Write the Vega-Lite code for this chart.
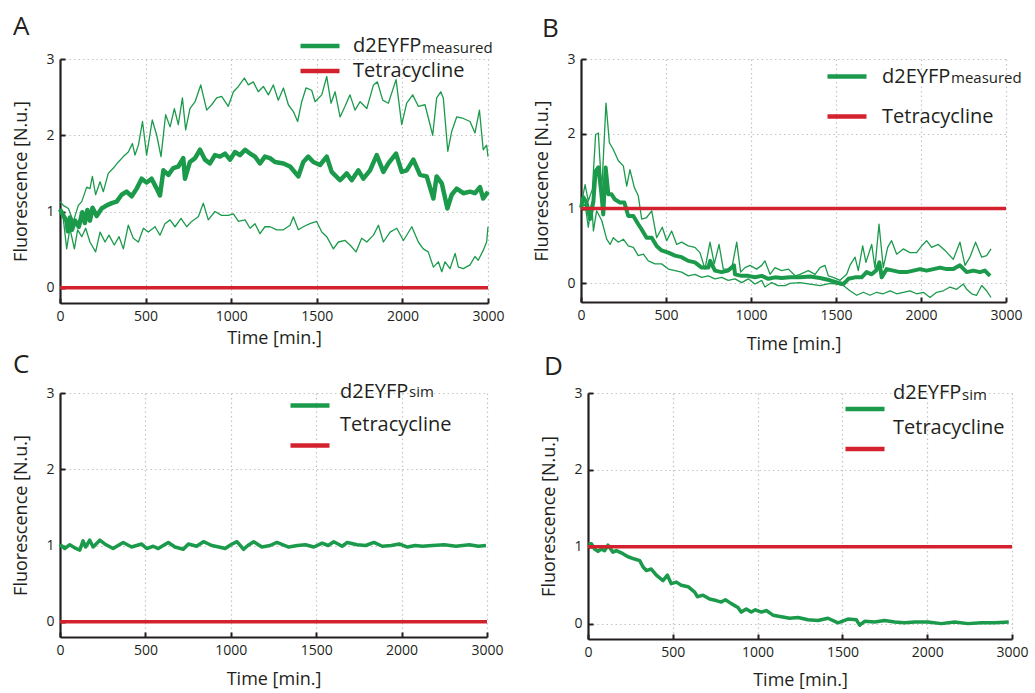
{
"$schema": "https://vega.github.io/schema/vega-lite/v6.json",
"background": "white",
"padding": {"left": 12, "top": 14, "right": 5, "bottom": 0},
"config": {
  "font": "Open Sans",
  "view": {"stroke": null},
  "axis": {"domainColor": "#231f20", "domainWidth": 2.2, "tickColor": "#231f20", "tickWidth": 2, "tickSize": -5, "labelPadding": 11, "labelFont": "Open Sans", "labelFontSize": 14, "labelColor": "#231f20", "titleFont": "Open Sans", "titleFontSize": 18, "titleFontWeight": "normal", "titleColor": "#231f20", "gridColor": "#c4c4c4", "gridDash": [1.5, 3], "gridWidth": 1.2, "labelFlush": false, "format": "d"},
  "axisY": {"titlePadding": 15},
  "legend": {"padding": 0, "labelFont": "Open Sans", "labelFontSize": 20, "labelColor": "#231f20", "symbolType": "stroke", "symbolSize": 1521, "symbolStrokeWidth": 4.5, "labelLimit": 0},
  "title": {"font": "Open Sans", "fontSize": 26, "fontWeight": "normal", "color": "#231f20", "anchor": "start", "frame": "bounds"}
},
"datasets": {
"A": [
{"time":0,"value":1.03,"series":"d2EYFP","line":"mean"},{"time":19,"value":0.95,"series":"d2EYFP","line":"mean"},{"time":39,"value":0.87,"series":"d2EYFP","line":"mean"},{"time":46,"value":0.74,"series":"d2EYFP","line":"mean"},{"time":58,"value":0.92,"series":"d2EYFP","line":"mean"},{"time":70,"value":0.76,"series":"d2EYFP","line":"mean"},{"time":88,"value":0.88,"series":"d2EYFP","line":"mean"},{"time":110,"value":0.8,"series":"d2EYFP","line":"mean"},{"time":130,"value":0.99,"series":"d2EYFP","line":"mean"},{"time":145,"value":0.85,"series":"d2EYFP","line":"mean"},{"time":160,"value":1.02,"series":"d2EYFP","line":"mean"},{"time":175,"value":0.88,"series":"d2EYFP","line":"mean"},{"time":190,"value":1.05,"series":"d2EYFP","line":"mean"},{"time":214,"value":0.94,"series":"d2EYFP","line":"mean"},{"time":243,"value":1.04,"series":"d2EYFP","line":"mean"},{"time":273,"value":1.08,"series":"d2EYFP","line":"mean"},{"time":302,"value":1.11,"series":"d2EYFP","line":"mean"},{"time":331,"value":1.13,"series":"d2EYFP","line":"mean"},{"time":360,"value":1.22,"series":"d2EYFP","line":"mean"},{"time":389,"value":1.26,"series":"d2EYFP","line":"mean"},{"time":419,"value":1.2,"series":"d2EYFP","line":"mean"},{"time":448,"value":1.3,"series":"d2EYFP","line":"mean"},{"time":477,"value":1.43,"series":"d2EYFP","line":"mean"},{"time":506,"value":1.38,"series":"d2EYFP","line":"mean"},{"time":535,"value":1.43,"series":"d2EYFP","line":"mean"},{"time":565,"value":1.3,"series":"d2EYFP","line":"mean"},{"time":584,"value":1.21,"series":"d2EYFP","line":"mean"},{"time":604,"value":1.54,"series":"d2EYFP","line":"mean"},{"time":633,"value":1.48,"series":"d2EYFP","line":"mean"},{"time":662,"value":1.57,"series":"d2EYFP","line":"mean"},{"time":691,"value":1.59,"series":"d2EYFP","line":"mean"},{"time":720,"value":1.7,"series":"d2EYFP","line":"mean"},{"time":730,"value":1.43,"series":"d2EYFP","line":"mean"},{"time":759,"value":1.65,"series":"d2EYFP","line":"mean"},{"time":789,"value":1.7,"series":"d2EYFP","line":"mean"},{"time":818,"value":1.81,"series":"d2EYFP","line":"mean"},{"time":847,"value":1.68,"series":"d2EYFP","line":"mean"},{"time":876,"value":1.63,"series":"d2EYFP","line":"mean"},{"time":905,"value":1.74,"series":"d2EYFP","line":"mean"},{"time":935,"value":1.72,"series":"d2EYFP","line":"mean"},{"time":964,"value":1.76,"series":"d2EYFP","line":"mean"},{"time":993,"value":1.68,"series":"d2EYFP","line":"mean"},{"time":1022,"value":1.78,"series":"d2EYFP","line":"mean"},{"time":1051,"value":1.74,"series":"d2EYFP","line":"mean"},{"time":1081,"value":1.81,"series":"d2EYFP","line":"mean"},{"time":1110,"value":1.76,"series":"d2EYFP","line":"mean"},{"time":1139,"value":1.72,"series":"d2EYFP","line":"mean"},{"time":1168,"value":1.63,"series":"d2EYFP","line":"mean"},{"time":1197,"value":1.72,"series":"d2EYFP","line":"mean"},{"time":1226,"value":1.7,"series":"d2EYFP","line":"mean"},{"time":1256,"value":1.65,"series":"d2EYFP","line":"mean"},{"time":1305,"value":1.63,"series":"d2EYFP","line":"mean"},{"time":1344,"value":1.59,"series":"d2EYFP","line":"mean"},{"time":1392,"value":1.46,"series":"d2EYFP","line":"mean"},{"time":1421,"value":1.65,"series":"d2EYFP","line":"mean"},{"time":1450,"value":1.72,"series":"d2EYFP","line":"mean"},{"time":1480,"value":1.65,"series":"d2EYFP","line":"mean"},{"time":1519,"value":1.61,"series":"d2EYFP","line":"mean"},{"time":1558,"value":1.72,"series":"d2EYFP","line":"mean"},{"time":1587,"value":1.52,"series":"d2EYFP","line":"mean"},{"time":1636,"value":1.41,"series":"d2EYFP","line":"mean"},{"time":1675,"value":1.5,"series":"d2EYFP","line":"mean"},{"time":1704,"value":1.41,"series":"d2EYFP","line":"mean"},{"time":1743,"value":1.54,"series":"d2EYFP","line":"mean"},{"time":1772,"value":1.43,"series":"d2EYFP","line":"mean"},{"time":1811,"value":1.54,"series":"d2EYFP","line":"mean"},{"time":1850,"value":1.74,"series":"d2EYFP","line":"mean"},{"time":1889,"value":1.52,"series":"d2EYFP","line":"mean"},{"time":1918,"value":1.63,"series":"d2EYFP","line":"mean"},{"time":1963,"value":1.76,"series":"d2EYFP","line":"mean"},{"time":1996,"value":1.52,"series":"d2EYFP","line":"mean"},{"time":2025,"value":1.54,"series":"d2EYFP","line":"mean"},{"time":2064,"value":1.68,"series":"d2EYFP","line":"mean"},{"time":2103,"value":1.48,"series":"d2EYFP","line":"mean"},{"time":2142,"value":1.46,"series":"d2EYFP","line":"mean"},{"time":2181,"value":1.17,"series":"d2EYFP","line":"mean"},{"time":2200,"value":1.46,"series":"d2EYFP","line":"mean"},{"time":2230,"value":1.37,"series":"d2EYFP","line":"mean"},{"time":2263,"value":1.04,"series":"d2EYFP","line":"mean"},{"time":2288,"value":1.22,"series":"d2EYFP","line":"mean"},{"time":2317,"value":1.3,"series":"d2EYFP","line":"mean"},{"time":2356,"value":1.24,"series":"d2EYFP","line":"mean"},{"time":2395,"value":1.26,"series":"d2EYFP","line":"mean"},{"time":2424,"value":1.24,"series":"d2EYFP","line":"mean"},{"time":2453,"value":1.32,"series":"d2EYFP","line":"mean"},{"time":2472,"value":1.17,"series":"d2EYFP","line":"mean"},{"time":2500,"value":1.26,"series":"d2EYFP","line":"mean"},
{"time":0,"value":1.13,"series":"d2EYFP","line":"upper"},{"time":19,"value":1.08,"series":"d2EYFP","line":"upper"},{"time":49,"value":1.04,"series":"d2EYFP","line":"upper"},{"time":78,"value":0.87,"series":"d2EYFP","line":"upper"},{"time":107,"value":1.08,"series":"d2EYFP","line":"upper"},{"time":127,"value":1.13,"series":"d2EYFP","line":"upper"},{"time":156,"value":1.32,"series":"d2EYFP","line":"upper"},{"time":175,"value":1.3,"series":"d2EYFP","line":"upper"},{"time":189,"value":1.46,"series":"d2EYFP","line":"upper"},{"time":208,"value":1.22,"series":"d2EYFP","line":"upper"},{"time":234,"value":1.39,"series":"d2EYFP","line":"upper"},{"time":253,"value":1.26,"series":"d2EYFP","line":"upper"},{"time":282,"value":1.5,"series":"d2EYFP","line":"upper"},{"time":312,"value":1.57,"series":"d2EYFP","line":"upper"},{"time":341,"value":1.65,"series":"d2EYFP","line":"upper"},{"time":370,"value":1.72,"series":"d2EYFP","line":"upper"},{"time":399,"value":1.78,"series":"d2EYFP","line":"upper"},{"time":423,"value":1.89,"series":"d2EYFP","line":"upper"},{"time":438,"value":1.74,"series":"d2EYFP","line":"upper"},{"time":458,"value":1.87,"series":"d2EYFP","line":"upper"},{"time":482,"value":2.18,"series":"d2EYFP","line":"upper"},{"time":506,"value":1.74,"series":"d2EYFP","line":"upper"},{"time":539,"value":2.2,"series":"d2EYFP","line":"upper"},{"time":565,"value":2.0,"series":"d2EYFP","line":"upper"},{"time":590,"value":1.72,"series":"d2EYFP","line":"upper"},{"time":617,"value":2.27,"series":"d2EYFP","line":"upper"},{"time":643,"value":2.11,"series":"d2EYFP","line":"upper"},{"time":668,"value":2.35,"series":"d2EYFP","line":"upper"},{"time":691,"value":2.14,"series":"d2EYFP","line":"upper"},{"time":715,"value":2.49,"series":"d2EYFP","line":"upper"},{"time":734,"value":2.07,"series":"d2EYFP","line":"upper"},{"time":759,"value":2.35,"series":"d2EYFP","line":"upper"},{"time":789,"value":2.44,"series":"d2EYFP","line":"upper"},{"time":822,"value":2.66,"series":"d2EYFP","line":"upper"},{"time":857,"value":2.33,"series":"d2EYFP","line":"upper"},{"time":886,"value":2.4,"series":"d2EYFP","line":"upper"},{"time":915,"value":2.49,"series":"d2EYFP","line":"upper"},{"time":944,"value":2.51,"series":"d2EYFP","line":"upper"},{"time":983,"value":2.38,"series":"d2EYFP","line":"upper"},{"time":1013,"value":2.57,"series":"d2EYFP","line":"upper"},{"time":1042,"value":2.64,"series":"d2EYFP","line":"upper"},{"time":1077,"value":2.75,"series":"d2EYFP","line":"upper"},{"time":1100,"value":2.66,"series":"d2EYFP","line":"upper"},{"time":1129,"value":2.7,"series":"d2EYFP","line":"upper"},{"time":1158,"value":2.57,"series":"d2EYFP","line":"upper"},{"time":1188,"value":2.64,"series":"d2EYFP","line":"upper"},{"time":1217,"value":2.53,"series":"d2EYFP","line":"upper"},{"time":1246,"value":2.66,"series":"d2EYFP","line":"upper"},{"time":1275,"value":2.46,"series":"d2EYFP","line":"upper"},{"time":1305,"value":2.62,"series":"d2EYFP","line":"upper"},{"time":1334,"value":2.4,"series":"d2EYFP","line":"upper"},{"time":1363,"value":2.31,"series":"d2EYFP","line":"upper"},{"time":1388,"value":2.18,"series":"d2EYFP","line":"upper"},{"time":1412,"value":2.44,"series":"d2EYFP","line":"upper"},{"time":1437,"value":2.62,"series":"d2EYFP","line":"upper"},{"time":1470,"value":2.59,"series":"d2EYFP","line":"upper"},{"time":1490,"value":2.44,"series":"d2EYFP","line":"upper"},{"time":1529,"value":2.53,"series":"d2EYFP","line":"upper"},{"time":1558,"value":2.77,"series":"d2EYFP","line":"upper"},{"time":1583,"value":2.42,"series":"d2EYFP","line":"upper"},{"time":1607,"value":2.57,"series":"d2EYFP","line":"upper"},{"time":1636,"value":2.24,"series":"d2EYFP","line":"upper"},{"time":1665,"value":2.38,"series":"d2EYFP","line":"upper"},{"time":1694,"value":2.53,"series":"d2EYFP","line":"upper"},{"time":1723,"value":2.33,"series":"d2EYFP","line":"upper"},{"time":1753,"value":2.44,"series":"d2EYFP","line":"upper"},{"time":1792,"value":2.35,"series":"d2EYFP","line":"upper"},{"time":1831,"value":2.66,"series":"d2EYFP","line":"upper"},{"time":1854,"value":2.7,"series":"d2EYFP","line":"upper"},{"time":1885,"value":2.46,"series":"d2EYFP","line":"upper"},{"time":1918,"value":2.42,"series":"d2EYFP","line":"upper"},{"time":1963,"value":2.73,"series":"d2EYFP","line":"upper"},{"time":1996,"value":2.14,"series":"d2EYFP","line":"upper"},{"time":2025,"value":2.42,"series":"d2EYFP","line":"upper"},{"time":2060,"value":2.53,"series":"d2EYFP","line":"upper"},{"time":2093,"value":2.38,"series":"d2EYFP","line":"upper"},{"time":2132,"value":2.4,"series":"d2EYFP","line":"upper"},{"time":2177,"value":2.0,"series":"d2EYFP","line":"upper"},{"time":2200,"value":2.49,"series":"d2EYFP","line":"upper"},{"time":2224,"value":2.57,"series":"d2EYFP","line":"upper"},{"time":2239,"value":2.49,"series":"d2EYFP","line":"upper"},{"time":2265,"value":1.79,"series":"d2EYFP","line":"upper"},{"time":2288,"value":2.05,"series":"d2EYFP","line":"upper"},{"time":2317,"value":2.24,"series":"d2EYFP","line":"upper"},{"time":2356,"value":2.22,"series":"d2EYFP","line":"upper"},{"time":2395,"value":2.18,"series":"d2EYFP","line":"upper"},{"time":2424,"value":2.03,"series":"d2EYFP","line":"upper"},{"time":2450,"value":2.33,"series":"d2EYFP","line":"upper"},{"time":2472,"value":1.81,"series":"d2EYFP","line":"upper"},{"time":2492,"value":1.87,"series":"d2EYFP","line":"upper"},{"time":2500,"value":1.72,"series":"d2EYFP","line":"upper"},
{"time":0,"value":1.04,"series":"d2EYFP","line":"lower"},{"time":19,"value":0.91,"series":"d2EYFP","line":"lower"},{"time":39,"value":0.51,"series":"d2EYFP","line":"lower"},{"time":58,"value":0.78,"series":"d2EYFP","line":"lower"},{"time":84,"value":0.51,"series":"d2EYFP","line":"lower"},{"time":103,"value":0.76,"series":"d2EYFP","line":"lower"},{"time":127,"value":0.67,"series":"d2EYFP","line":"lower"},{"time":150,"value":0.78,"series":"d2EYFP","line":"lower"},{"time":175,"value":0.6,"series":"d2EYFP","line":"lower"},{"time":208,"value":0.47,"series":"d2EYFP","line":"lower"},{"time":234,"value":0.73,"series":"d2EYFP","line":"lower"},{"time":263,"value":0.6,"series":"d2EYFP","line":"lower"},{"time":286,"value":0.69,"series":"d2EYFP","line":"lower"},{"time":317,"value":0.56,"series":"d2EYFP","line":"lower"},{"time":345,"value":0.67,"series":"d2EYFP","line":"lower"},{"time":370,"value":0.51,"series":"d2EYFP","line":"lower"},{"time":399,"value":0.82,"series":"d2EYFP","line":"lower"},{"time":428,"value":0.65,"series":"d2EYFP","line":"lower"},{"time":458,"value":0.6,"series":"d2EYFP","line":"lower"},{"time":487,"value":0.78,"series":"d2EYFP","line":"lower"},{"time":516,"value":0.73,"series":"d2EYFP","line":"lower"},{"time":555,"value":0.8,"series":"d2EYFP","line":"lower"},{"time":584,"value":0.69,"series":"d2EYFP","line":"lower"},{"time":613,"value":0.84,"series":"d2EYFP","line":"lower"},{"time":643,"value":0.89,"series":"d2EYFP","line":"lower"},{"time":672,"value":0.8,"series":"d2EYFP","line":"lower"},{"time":707,"value":0.91,"series":"d2EYFP","line":"lower"},{"time":740,"value":0.8,"series":"d2EYFP","line":"lower"},{"time":769,"value":0.87,"series":"d2EYFP","line":"lower"},{"time":808,"value":0.93,"series":"d2EYFP","line":"lower"},{"time":837,"value":1.11,"series":"d2EYFP","line":"lower"},{"time":866,"value":0.89,"series":"d2EYFP","line":"lower"},{"time":905,"value":1.0,"series":"d2EYFP","line":"lower"},{"time":944,"value":0.95,"series":"d2EYFP","line":"lower"},{"time":983,"value":0.95,"series":"d2EYFP","line":"lower"},{"time":1013,"value":0.97,"series":"d2EYFP","line":"lower"},{"time":1042,"value":0.87,"series":"d2EYFP","line":"lower"},{"time":1081,"value":0.89,"series":"d2EYFP","line":"lower"},{"time":1110,"value":0.78,"series":"d2EYFP","line":"lower"},{"time":1139,"value":0.84,"series":"d2EYFP","line":"lower"},{"time":1168,"value":0.71,"series":"d2EYFP","line":"lower"},{"time":1197,"value":0.8,"series":"d2EYFP","line":"lower"},{"time":1227,"value":0.8,"series":"d2EYFP","line":"lower"},{"time":1266,"value":0.76,"series":"d2EYFP","line":"lower"},{"time":1305,"value":0.76,"series":"d2EYFP","line":"lower"},{"time":1344,"value":0.82,"series":"d2EYFP","line":"lower"},{"time":1363,"value":0.93,"series":"d2EYFP","line":"lower"},{"time":1392,"value":0.76,"series":"d2EYFP","line":"lower"},{"time":1421,"value":0.8,"series":"d2EYFP","line":"lower"},{"time":1460,"value":0.84,"series":"d2EYFP","line":"lower"},{"time":1499,"value":0.87,"series":"d2EYFP","line":"lower"},{"time":1529,"value":0.73,"series":"d2EYFP","line":"lower"},{"time":1558,"value":0.67,"series":"d2EYFP","line":"lower"},{"time":1597,"value":0.51,"series":"d2EYFP","line":"lower"},{"time":1626,"value":0.6,"series":"d2EYFP","line":"lower"},{"time":1665,"value":0.62,"series":"d2EYFP","line":"lower"},{"time":1694,"value":0.56,"series":"d2EYFP","line":"lower"},{"time":1729,"value":0.47,"series":"d2EYFP","line":"lower"},{"time":1762,"value":0.65,"series":"d2EYFP","line":"lower"},{"time":1792,"value":0.6,"series":"d2EYFP","line":"lower"},{"time":1831,"value":0.69,"series":"d2EYFP","line":"lower"},{"time":1860,"value":0.82,"series":"d2EYFP","line":"lower"},{"time":1889,"value":0.6,"series":"d2EYFP","line":"lower"},{"time":1928,"value":0.73,"series":"d2EYFP","line":"lower"},{"time":1967,"value":0.78,"series":"d2EYFP","line":"lower"},{"time":2006,"value":0.62,"series":"d2EYFP","line":"lower"},{"time":2055,"value":0.8,"series":"d2EYFP","line":"lower"},{"time":2093,"value":0.6,"series":"d2EYFP","line":"lower"},{"time":2122,"value":0.51,"series":"d2EYFP","line":"lower"},{"time":2151,"value":0.47,"series":"d2EYFP","line":"lower"},{"time":2181,"value":0.27,"series":"d2EYFP","line":"lower"},{"time":2210,"value":0.34,"series":"d2EYFP","line":"lower"},{"time":2230,"value":0.21,"series":"d2EYFP","line":"lower"},{"time":2249,"value":0.34,"series":"d2EYFP","line":"lower"},{"time":2278,"value":0.25,"series":"d2EYFP","line":"lower"},{"time":2308,"value":0.45,"series":"d2EYFP","line":"lower"},{"time":2327,"value":0.27,"series":"d2EYFP","line":"lower"},{"time":2356,"value":0.25,"series":"d2EYFP","line":"lower"},{"time":2395,"value":0.3,"series":"d2EYFP","line":"lower"},{"time":2424,"value":0.41,"series":"d2EYFP","line":"lower"},{"time":2443,"value":0.36,"series":"d2EYFP","line":"lower"},{"time":2472,"value":0.49,"series":"d2EYFP","line":"lower"},{"time":2492,"value":0.6,"series":"d2EYFP","line":"lower"},{"time":2500,"value":0.8,"series":"d2EYFP","line":"lower"},
{"time":0,"value":0,"series":"Tetracycline","line":"tet"},{"time":2500,"value":0,"series":"Tetracycline","line":"tet"}
],
"B": [
{"time":0,"value":1.01,"series":"d2EYFP","line":"mean"},{"time":14,"value":1.15,"series":"d2EYFP","line":"mean"},{"time":33,"value":1.08,"series":"d2EYFP","line":"mean"},{"time":53,"value":0.86,"series":"d2EYFP","line":"mean"},{"time":73,"value":1.1,"series":"d2EYFP","line":"mean"},{"time":86,"value":1.5,"series":"d2EYFP","line":"mean"},{"time":102,"value":1.55,"series":"d2EYFP","line":"mean"},{"time":118,"value":1.24,"series":"d2EYFP","line":"mean"},{"time":131,"value":0.92,"series":"d2EYFP","line":"mean"},{"time":145,"value":1.55,"series":"d2EYFP","line":"mean"},{"time":161,"value":1.19,"series":"d2EYFP","line":"mean"},{"time":180,"value":1.19,"series":"d2EYFP","line":"mean"},{"time":200,"value":1.12,"series":"d2EYFP","line":"mean"},{"time":229,"value":1.08,"series":"d2EYFP","line":"mean"},{"time":255,"value":1.08,"series":"d2EYFP","line":"mean"},{"time":278,"value":0.9,"series":"d2EYFP","line":"mean"},{"time":308,"value":0.9,"series":"d2EYFP","line":"mean"},{"time":337,"value":0.79,"series":"d2EYFP","line":"mean"},{"time":357,"value":0.72,"series":"d2EYFP","line":"mean"},{"time":386,"value":0.61,"series":"d2EYFP","line":"mean"},{"time":416,"value":0.61,"series":"d2EYFP","line":"mean"},{"time":445,"value":0.5,"series":"d2EYFP","line":"mean"},{"time":474,"value":0.44,"series":"d2EYFP","line":"mean"},{"time":514,"value":0.41,"series":"d2EYFP","line":"mean"},{"time":553,"value":0.37,"series":"d2EYFP","line":"mean"},{"time":592,"value":0.35,"series":"d2EYFP","line":"mean"},{"time":631,"value":0.3,"series":"d2EYFP","line":"mean"},{"time":670,"value":0.28,"series":"d2EYFP","line":"mean"},{"time":710,"value":0.21,"series":"d2EYFP","line":"mean"},{"time":749,"value":0.21,"series":"d2EYFP","line":"mean"},{"time":760,"value":0.3,"series":"d2EYFP","line":"mean"},{"time":788,"value":0.17,"series":"d2EYFP","line":"mean"},{"time":827,"value":0.15,"series":"d2EYFP","line":"mean"},{"time":866,"value":0.17,"series":"d2EYFP","line":"mean"},{"time":900,"value":0.24,"series":"d2EYFP","line":"mean"},{"time":906,"value":0.12,"series":"d2EYFP","line":"mean"},{"time":945,"value":0.1,"series":"d2EYFP","line":"mean"},{"time":984,"value":0.1,"series":"d2EYFP","line":"mean"},{"time":1023,"value":0.08,"series":"d2EYFP","line":"mean"},{"time":1063,"value":0.1,"series":"d2EYFP","line":"mean"},{"time":1102,"value":0.06,"series":"d2EYFP","line":"mean"},{"time":1141,"value":0.08,"series":"d2EYFP","line":"mean"},{"time":1180,"value":0.07,"series":"d2EYFP","line":"mean"},{"time":1229,"value":0.08,"series":"d2EYFP","line":"mean"},{"time":1288,"value":0.08,"series":"d2EYFP","line":"mean"},{"time":1347,"value":0.09,"series":"d2EYFP","line":"mean"},{"time":1406,"value":0.07,"series":"d2EYFP","line":"mean"},{"time":1465,"value":0.04,"series":"d2EYFP","line":"mean"},{"time":1524,"value":0.0,"series":"d2EYFP","line":"mean"},{"time":1543,"value":-0.01,"series":"d2EYFP","line":"mean"},{"time":1573,"value":0.06,"series":"d2EYFP","line":"mean"},{"time":1612,"value":0.08,"series":"d2EYFP","line":"mean"},{"time":1651,"value":0.08,"series":"d2EYFP","line":"mean"},{"time":1680,"value":0.15,"series":"d2EYFP","line":"mean"},{"time":1710,"value":0.12,"series":"d2EYFP","line":"mean"},{"time":1736,"value":0.17,"series":"d2EYFP","line":"mean"},{"time":1755,"value":0.28,"series":"d2EYFP","line":"mean"},{"time":1769,"value":0.08,"series":"d2EYFP","line":"mean"},{"time":1798,"value":0.19,"series":"d2EYFP","line":"mean"},{"time":1837,"value":0.17,"series":"d2EYFP","line":"mean"},{"time":1876,"value":0.15,"series":"d2EYFP","line":"mean"},{"time":1916,"value":0.15,"series":"d2EYFP","line":"mean"},{"time":1955,"value":0.17,"series":"d2EYFP","line":"mean"},{"time":1994,"value":0.19,"series":"d2EYFP","line":"mean"},{"time":2033,"value":0.17,"series":"d2EYFP","line":"mean"},{"time":2073,"value":0.19,"series":"d2EYFP","line":"mean"},{"time":2112,"value":0.21,"series":"d2EYFP","line":"mean"},{"time":2151,"value":0.19,"series":"d2EYFP","line":"mean"},{"time":2190,"value":0.19,"series":"d2EYFP","line":"mean"},{"time":2229,"value":0.24,"series":"d2EYFP","line":"mean"},{"time":2269,"value":0.15,"series":"d2EYFP","line":"mean"},{"time":2308,"value":0.17,"series":"d2EYFP","line":"mean"},{"time":2347,"value":0.15,"series":"d2EYFP","line":"mean"},{"time":2376,"value":0.17,"series":"d2EYFP","line":"mean"},{"time":2406,"value":0.1,"series":"d2EYFP","line":"mean"},
{"time":0,"value":1.04,"series":"d2EYFP","line":"upper"},{"time":24,"value":1.32,"series":"d2EYFP","line":"upper"},{"time":43,"value":1.1,"series":"d2EYFP","line":"upper"},{"time":67,"value":1.26,"series":"d2EYFP","line":"upper"},{"time":86,"value":1.99,"series":"d2EYFP","line":"upper"},{"time":102,"value":2.01,"series":"d2EYFP","line":"upper"},{"time":122,"value":1.24,"series":"d2EYFP","line":"upper"},{"time":147,"value":2.41,"series":"d2EYFP","line":"upper"},{"time":167,"value":1.88,"series":"d2EYFP","line":"upper"},{"time":190,"value":1.79,"series":"d2EYFP","line":"upper"},{"time":220,"value":1.64,"series":"d2EYFP","line":"upper"},{"time":249,"value":1.57,"series":"d2EYFP","line":"upper"},{"time":269,"value":1.3,"series":"d2EYFP","line":"upper"},{"time":288,"value":1.52,"series":"d2EYFP","line":"upper"},{"time":314,"value":1.28,"series":"d2EYFP","line":"upper"},{"time":337,"value":1.17,"series":"d2EYFP","line":"upper"},{"time":357,"value":0.86,"series":"d2EYFP","line":"upper"},{"time":386,"value":0.88,"series":"d2EYFP","line":"upper"},{"time":416,"value":0.97,"series":"d2EYFP","line":"upper"},{"time":445,"value":0.61,"series":"d2EYFP","line":"upper"},{"time":478,"value":0.75,"series":"d2EYFP","line":"upper"},{"time":504,"value":0.57,"series":"d2EYFP","line":"upper"},{"time":533,"value":0.7,"series":"d2EYFP","line":"upper"},{"time":563,"value":0.52,"series":"d2EYFP","line":"upper"},{"time":592,"value":0.55,"series":"d2EYFP","line":"upper"},{"time":631,"value":0.5,"series":"d2EYFP","line":"upper"},{"time":670,"value":0.48,"series":"d2EYFP","line":"upper"},{"time":700,"value":0.41,"series":"d2EYFP","line":"upper"},{"time":729,"value":0.19,"series":"d2EYFP","line":"upper"},{"time":759,"value":0.55,"series":"d2EYFP","line":"upper"},{"time":784,"value":0.26,"series":"d2EYFP","line":"upper"},{"time":812,"value":0.52,"series":"d2EYFP","line":"upper"},{"time":837,"value":0.19,"series":"d2EYFP","line":"upper"},{"time":866,"value":0.19,"series":"d2EYFP","line":"upper"},{"time":890,"value":0.24,"series":"d2EYFP","line":"upper"},{"time":916,"value":0.55,"series":"d2EYFP","line":"upper"},{"time":939,"value":0.15,"series":"d2EYFP","line":"upper"},{"time":965,"value":0.21,"series":"d2EYFP","line":"upper"},{"time":994,"value":0.24,"series":"d2EYFP","line":"upper"},{"time":1033,"value":0.19,"series":"d2EYFP","line":"upper"},{"time":1063,"value":0.24,"series":"d2EYFP","line":"upper"},{"time":1082,"value":0.3,"series":"d2EYFP","line":"upper"},{"time":1112,"value":0.12,"series":"d2EYFP","line":"upper"},{"time":1141,"value":0.21,"series":"d2EYFP","line":"upper"},{"time":1180,"value":0.17,"series":"d2EYFP","line":"upper"},{"time":1220,"value":0.19,"series":"d2EYFP","line":"upper"},{"time":1260,"value":0.1,"series":"d2EYFP","line":"upper"},{"time":1288,"value":0.12,"series":"d2EYFP","line":"upper"},{"time":1337,"value":0.17,"series":"d2EYFP","line":"upper"},{"time":1377,"value":0.12,"series":"d2EYFP","line":"upper"},{"time":1406,"value":0.21,"series":"d2EYFP","line":"upper"},{"time":1435,"value":0.24,"series":"d2EYFP","line":"upper"},{"time":1455,"value":0.1,"series":"d2EYFP","line":"upper"},{"time":1484,"value":0.08,"series":"d2EYFP","line":"upper"},{"time":1524,"value":0.04,"series":"d2EYFP","line":"upper"},{"time":1563,"value":0.12,"series":"d2EYFP","line":"upper"},{"time":1582,"value":0.24,"series":"d2EYFP","line":"upper"},{"time":1612,"value":0.35,"series":"d2EYFP","line":"upper"},{"time":1631,"value":0.17,"series":"d2EYFP","line":"upper"},{"time":1657,"value":0.5,"series":"d2EYFP","line":"upper"},{"time":1676,"value":0.28,"series":"d2EYFP","line":"upper"},{"time":1710,"value":0.52,"series":"d2EYFP","line":"upper"},{"time":1729,"value":0.21,"series":"d2EYFP","line":"upper"},{"time":1753,"value":0.79,"series":"d2EYFP","line":"upper"},{"time":1778,"value":0.21,"series":"d2EYFP","line":"upper"},{"time":1804,"value":0.48,"series":"d2EYFP","line":"upper"},{"time":1827,"value":0.57,"series":"d2EYFP","line":"upper"},{"time":1857,"value":0.39,"series":"d2EYFP","line":"upper"},{"time":1896,"value":0.46,"series":"d2EYFP","line":"upper"},{"time":1935,"value":0.41,"series":"d2EYFP","line":"upper"},{"time":1974,"value":0.41,"series":"d2EYFP","line":"upper"},{"time":2004,"value":0.5,"series":"d2EYFP","line":"upper"},{"time":2033,"value":0.57,"series":"d2EYFP","line":"upper"},{"time":2063,"value":0.48,"series":"d2EYFP","line":"upper"},{"time":2102,"value":0.52,"series":"d2EYFP","line":"upper"},{"time":2141,"value":0.44,"series":"d2EYFP","line":"upper"},{"time":2190,"value":0.32,"series":"d2EYFP","line":"upper"},{"time":2229,"value":0.55,"series":"d2EYFP","line":"upper"},{"time":2259,"value":0.24,"series":"d2EYFP","line":"upper"},{"time":2288,"value":0.35,"series":"d2EYFP","line":"upper"},{"time":2321,"value":0.55,"series":"d2EYFP","line":"upper"},{"time":2357,"value":0.35,"series":"d2EYFP","line":"upper"},{"time":2386,"value":0.37,"series":"d2EYFP","line":"upper"},{"time":2412,"value":0.46,"series":"d2EYFP","line":"upper"},
{"time":0,"value":1.01,"series":"d2EYFP","line":"lower"},{"time":24,"value":1.06,"series":"d2EYFP","line":"lower"},{"time":43,"value":0.75,"series":"d2EYFP","line":"lower"},{"time":63,"value":1.08,"series":"d2EYFP","line":"lower"},{"time":73,"value":0.7,"series":"d2EYFP","line":"lower"},{"time":92,"value":0.97,"series":"d2EYFP","line":"lower"},{"time":122,"value":0.84,"series":"d2EYFP","line":"lower"},{"time":151,"value":0.59,"series":"d2EYFP","line":"lower"},{"time":171,"value":0.52,"series":"d2EYFP","line":"lower"},{"time":190,"value":0.61,"series":"d2EYFP","line":"lower"},{"time":220,"value":0.55,"series":"d2EYFP","line":"lower"},{"time":249,"value":0.59,"series":"d2EYFP","line":"lower"},{"time":278,"value":0.5,"series":"d2EYFP","line":"lower"},{"time":308,"value":0.48,"series":"d2EYFP","line":"lower"},{"time":337,"value":0.37,"series":"d2EYFP","line":"lower"},{"time":367,"value":0.39,"series":"d2EYFP","line":"lower"},{"time":396,"value":0.3,"series":"d2EYFP","line":"lower"},{"time":435,"value":0.26,"series":"d2EYFP","line":"lower"},{"time":474,"value":0.26,"series":"d2EYFP","line":"lower"},{"time":514,"value":0.19,"series":"d2EYFP","line":"lower"},{"time":553,"value":0.17,"series":"d2EYFP","line":"lower"},{"time":592,"value":0.15,"series":"d2EYFP","line":"lower"},{"time":631,"value":0.1,"series":"d2EYFP","line":"lower"},{"time":670,"value":0.12,"series":"d2EYFP","line":"lower"},{"time":710,"value":0.08,"series":"d2EYFP","line":"lower"},{"time":749,"value":0.1,"series":"d2EYFP","line":"lower"},{"time":788,"value":0.06,"series":"d2EYFP","line":"lower"},{"time":827,"value":0.08,"series":"d2EYFP","line":"lower"},{"time":866,"value":0.04,"series":"d2EYFP","line":"lower"},{"time":906,"value":0.06,"series":"d2EYFP","line":"lower"},{"time":945,"value":0.01,"series":"d2EYFP","line":"lower"},{"time":984,"value":0.06,"series":"d2EYFP","line":"lower"},{"time":1023,"value":-0.01,"series":"d2EYFP","line":"lower"},{"time":1063,"value":0.04,"series":"d2EYFP","line":"lower"},{"time":1082,"value":-0.05,"series":"d2EYFP","line":"lower"},{"time":1121,"value":0.01,"series":"d2EYFP","line":"lower"},{"time":1160,"value":-0.03,"series":"d2EYFP","line":"lower"},{"time":1200,"value":-0.03,"series":"d2EYFP","line":"lower"},{"time":1229,"value":0.0,"series":"d2EYFP","line":"lower"},{"time":1288,"value":0.01,"series":"d2EYFP","line":"lower"},{"time":1347,"value":-0.01,"series":"d2EYFP","line":"lower"},{"time":1406,"value":-0.03,"series":"d2EYFP","line":"lower"},{"time":1465,"value":0.0,"series":"d2EYFP","line":"lower"},{"time":1504,"value":-0.01,"series":"d2EYFP","line":"lower"},{"time":1543,"value":-0.03,"series":"d2EYFP","line":"lower"},{"time":1582,"value":-0.1,"series":"d2EYFP","line":"lower"},{"time":1622,"value":-0.16,"series":"d2EYFP","line":"lower"},{"time":1661,"value":-0.12,"series":"d2EYFP","line":"lower"},{"time":1700,"value":-0.16,"series":"d2EYFP","line":"lower"},{"time":1739,"value":-0.12,"series":"d2EYFP","line":"lower"},{"time":1778,"value":-0.14,"series":"d2EYFP","line":"lower"},{"time":1818,"value":-0.1,"series":"d2EYFP","line":"lower"},{"time":1857,"value":-0.14,"series":"d2EYFP","line":"lower"},{"time":1896,"value":-0.12,"series":"d2EYFP","line":"lower"},{"time":1935,"value":-0.1,"series":"d2EYFP","line":"lower"},{"time":1974,"value":-0.14,"series":"d2EYFP","line":"lower"},{"time":2014,"value":-0.12,"series":"d2EYFP","line":"lower"},{"time":2053,"value":-0.19,"series":"d2EYFP","line":"lower"},{"time":2092,"value":-0.12,"series":"d2EYFP","line":"lower"},{"time":2131,"value":-0.1,"series":"d2EYFP","line":"lower"},{"time":2171,"value":-0.05,"series":"d2EYFP","line":"lower"},{"time":2210,"value":-0.08,"series":"d2EYFP","line":"lower"},{"time":2249,"value":-0.01,"series":"d2EYFP","line":"lower"},{"time":2269,"value":-0.08,"series":"d2EYFP","line":"lower"},{"time":2298,"value":-0.14,"series":"d2EYFP","line":"lower"},{"time":2327,"value":-0.16,"series":"d2EYFP","line":"lower"},{"time":2357,"value":-0.03,"series":"d2EYFP","line":"lower"},{"time":2386,"value":-0.1,"series":"d2EYFP","line":"lower"},{"time":2412,"value":-0.19,"series":"d2EYFP","line":"lower"},
{"time":0,"value":1,"series":"Tetracycline","line":"tet"},{"time":2500,"value":1,"series":"Tetracycline","line":"tet"}
],
"C": [
{"time":0,"value":0.98,"series":"d2EYFP","line":"mean"},{"time":8,"value":1.0,"series":"d2EYFP","line":"mean"},{"time":27,"value":0.96,"series":"d2EYFP","line":"mean"},{"time":57,"value":1.01,"series":"d2EYFP","line":"mean"},{"time":86,"value":0.97,"series":"d2EYFP","line":"mean"},{"time":116,"value":0.94,"series":"d2EYFP","line":"mean"},{"time":135,"value":1.06,"series":"d2EYFP","line":"mean"},{"time":150,"value":0.98,"series":"d2EYFP","line":"mean"},{"time":161,"value":1.02,"series":"d2EYFP","line":"mean"},{"time":174,"value":1.07,"series":"d2EYFP","line":"mean"},{"time":194,"value":0.98,"series":"d2EYFP","line":"mean"},{"time":233,"value":1.07,"series":"d2EYFP","line":"mean"},{"time":262,"value":1.02,"series":"d2EYFP","line":"mean"},{"time":311,"value":0.96,"series":"d2EYFP","line":"mean"},{"time":340,"value":1.0,"series":"d2EYFP","line":"mean"},{"time":370,"value":1.04,"series":"d2EYFP","line":"mean"},{"time":419,"value":0.98,"series":"d2EYFP","line":"mean"},{"time":478,"value":1.02,"series":"d2EYFP","line":"mean"},{"time":507,"value":0.96,"series":"d2EYFP","line":"mean"},{"time":546,"value":0.99,"series":"d2EYFP","line":"mean"},{"time":575,"value":0.96,"series":"d2EYFP","line":"mean"},{"time":634,"value":1.04,"series":"d2EYFP","line":"mean"},{"time":673,"value":0.98,"series":"d2EYFP","line":"mean"},{"time":722,"value":0.95,"series":"d2EYFP","line":"mean"},{"time":752,"value":1.02,"series":"d2EYFP","line":"mean"},{"time":800,"value":0.99,"series":"d2EYFP","line":"mean"},{"time":840,"value":1.05,"series":"d2EYFP","line":"mean"},{"time":889,"value":1.0,"series":"d2EYFP","line":"mean"},{"time":930,"value":0.98,"series":"d2EYFP","line":"mean"},{"time":967,"value":0.96,"series":"d2EYFP","line":"mean"},{"time":1000,"value":1.01,"series":"d2EYFP","line":"mean"},{"time":1036,"value":1.05,"series":"d2EYFP","line":"mean"},{"time":1075,"value":0.95,"series":"d2EYFP","line":"mean"},{"time":1100,"value":1.0,"series":"d2EYFP","line":"mean"},{"time":1134,"value":1.05,"series":"d2EYFP","line":"mean"},{"time":1182,"value":0.98,"series":"d2EYFP","line":"mean"},{"time":1230,"value":1.0,"series":"d2EYFP","line":"mean"},{"time":1270,"value":1.04,"series":"d2EYFP","line":"mean"},{"time":1339,"value":0.98,"series":"d2EYFP","line":"mean"},{"time":1390,"value":1.0,"series":"d2EYFP","line":"mean"},{"time":1437,"value":1.01,"series":"d2EYFP","line":"mean"},{"time":1486,"value":0.98,"series":"d2EYFP","line":"mean"},{"time":1535,"value":1.03,"series":"d2EYFP","line":"mean"},{"time":1570,"value":1.0,"series":"d2EYFP","line":"mean"},{"time":1603,"value":1.05,"series":"d2EYFP","line":"mean"},{"time":1652,"value":0.99,"series":"d2EYFP","line":"mean"},{"time":1682,"value":1.04,"series":"d2EYFP","line":"mean"},{"time":1740,"value":1.01,"series":"d2EYFP","line":"mean"},{"time":1790,"value":1.0,"series":"d2EYFP","line":"mean"},{"time":1838,"value":1.04,"series":"d2EYFP","line":"mean"},{"time":1887,"value":0.99,"series":"d2EYFP","line":"mean"},{"time":1940,"value":1.0,"series":"d2EYFP","line":"mean"},{"time":1985,"value":1.02,"series":"d2EYFP","line":"mean"},{"time":2034,"value":0.98,"series":"d2EYFP","line":"mean"},{"time":2080,"value":1.0,"series":"d2EYFP","line":"mean"},{"time":2122,"value":0.99,"series":"d2EYFP","line":"mean"},{"time":2180,"value":1.0,"series":"d2EYFP","line":"mean"},{"time":2250,"value":1.01,"series":"d2EYFP","line":"mean"},{"time":2318,"value":0.99,"series":"d2EYFP","line":"mean"},{"time":2396,"value":1.01,"series":"d2EYFP","line":"mean"},{"time":2450,"value":0.99,"series":"d2EYFP","line":"mean"},{"time":2494,"value":1.0,"series":"d2EYFP","line":"mean"},
{"time":0,"value":0,"series":"Tetracycline","line":"tet"},{"time":2500,"value":0,"series":"Tetracycline","line":"tet"}
],
"D": [
{"time":3,"value":1.03,"series":"d2EYFP","line":"mean"},{"time":20,"value":1.04,"series":"d2EYFP","line":"mean"},{"time":39,"value":0.97,"series":"d2EYFP","line":"mean"},{"time":59,"value":0.94,"series":"d2EYFP","line":"mean"},{"time":78,"value":0.97,"series":"d2EYFP","line":"mean"},{"time":98,"value":0.95,"series":"d2EYFP","line":"mean"},{"time":118,"value":1.02,"series":"d2EYFP","line":"mean"},{"time":147,"value":0.93,"series":"d2EYFP","line":"mean"},{"time":167,"value":0.95,"series":"d2EYFP","line":"mean"},{"time":187,"value":0.93,"series":"d2EYFP","line":"mean"},{"time":206,"value":0.91,"series":"d2EYFP","line":"mean"},{"time":236,"value":0.87,"series":"d2EYFP","line":"mean"},{"time":275,"value":0.84,"series":"d2EYFP","line":"mean"},{"time":305,"value":0.82,"series":"d2EYFP","line":"mean"},{"time":324,"value":0.74,"series":"d2EYFP","line":"mean"},{"time":344,"value":0.69,"series":"d2EYFP","line":"mean"},{"time":373,"value":0.71,"series":"d2EYFP","line":"mean"},{"time":403,"value":0.63,"series":"d2EYFP","line":"mean"},{"time":442,"value":0.56,"series":"d2EYFP","line":"mean"},{"time":468,"value":0.63,"series":"d2EYFP","line":"mean"},{"time":491,"value":0.52,"series":"d2EYFP","line":"mean"},{"time":521,"value":0.54,"series":"d2EYFP","line":"mean"},{"time":550,"value":0.5,"series":"d2EYFP","line":"mean"},{"time":590,"value":0.48,"series":"d2EYFP","line":"mean"},{"time":629,"value":0.41,"series":"d2EYFP","line":"mean"},{"time":645,"value":0.35,"series":"d2EYFP","line":"mean"},{"time":678,"value":0.37,"series":"d2EYFP","line":"mean"},{"time":717,"value":0.32,"series":"d2EYFP","line":"mean"},{"time":756,"value":0.3,"series":"d2EYFP","line":"mean"},{"time":786,"value":0.28,"series":"d2EYFP","line":"mean"},{"time":810,"value":0.31,"series":"d2EYFP","line":"mean"},{"time":845,"value":0.26,"series":"d2EYFP","line":"mean"},{"time":884,"value":0.21,"series":"d2EYFP","line":"mean"},{"time":904,"value":0.15,"series":"d2EYFP","line":"mean"},{"time":933,"value":0.19,"series":"d2EYFP","line":"mean"},{"time":963,"value":0.15,"series":"d2EYFP","line":"mean"},{"time":987,"value":0.18,"series":"d2EYFP","line":"mean"},{"time":1022,"value":0.15,"series":"d2EYFP","line":"mean"},{"time":1051,"value":0.17,"series":"d2EYFP","line":"mean"},{"time":1091,"value":0.11,"series":"d2EYFP","line":"mean"},{"time":1140,"value":0.09,"series":"d2EYFP","line":"mean"},{"time":1189,"value":0.07,"series":"d2EYFP","line":"mean"},{"time":1238,"value":0.08,"series":"d2EYFP","line":"mean"},{"time":1297,"value":0.05,"series":"d2EYFP","line":"mean"},{"time":1356,"value":0.04,"series":"d2EYFP","line":"mean"},{"time":1415,"value":0.07,"series":"d2EYFP","line":"mean"},{"time":1474,"value":0.01,"series":"d2EYFP","line":"mean"},{"time":1533,"value":0.06,"series":"d2EYFP","line":"mean"},{"time":1582,"value":0.05,"series":"d2EYFP","line":"mean"},{"time":1602,"value":-0.02,"series":"d2EYFP","line":"mean"},{"time":1631,"value":0.03,"series":"d2EYFP","line":"mean"},{"time":1690,"value":0.02,"series":"d2EYFP","line":"mean"},{"time":1749,"value":0.04,"series":"d2EYFP","line":"mean"},{"time":1808,"value":0.02,"series":"d2EYFP","line":"mean"},{"time":1867,"value":0.01,"series":"d2EYFP","line":"mean"},{"time":1926,"value":0.02,"series":"d2EYFP","line":"mean"},{"time":2004,"value":0.02,"series":"d2EYFP","line":"mean"},{"time":2083,"value":0.0,"series":"d2EYFP","line":"mean"},{"time":2162,"value":0.02,"series":"d2EYFP","line":"mean"},{"time":2240,"value":0.0,"series":"d2EYFP","line":"mean"},{"time":2319,"value":0.01,"series":"d2EYFP","line":"mean"},{"time":2398,"value":0.01,"series":"d2EYFP","line":"mean"},{"time":2481,"value":0.02,"series":"d2EYFP","line":"mean"},
{"time":0,"value":1,"series":"Tetracycline","line":"tet"},{"time":2500,"value":1,"series":"Tetracycline","line":"tet"}
]
},
"vconcat": [
{
"hconcat": [
{
"width": 428, "height": 244,
"title": {"text": "A", "offset": -16},
"layer": [
{
"data": {"name": "A"},
"encoding": {
"x": {"field": "time", "type": "quantitative", "scale": {"domain": [0, 2500], "nice": false}, "axis": {"values": [0, 500, 1000, 1500, 2000, 2500], "labelExpr": "datum.value == 2500 ? '3000' : datum.label", "title": "Time [min.]", "titlePadding": 6}},
"y": {"field": "value", "type": "quantitative", "scale": {"domain": [-0.2, 3], "nice": false, "zero": false}, "axis": {"values": [0, 1, 2, 3], "title": "Fluorescence [N.u.]"}}
},
"layer": [
{"transform": [{"filter": "datum.line == 'upper' || datum.line == 'lower'"}], "mark": {"type": "line", "strokeWidth": 1.3, "strokeJoin": "round"}, "encoding": {"detail": {"field": "line"}, "stroke": {"field": "series", "type": "nominal", "scale": {"domain": ["d2EYFP"], "range": ["#1b9a4b"]}, "legend": {"title": null, "orient": "none", "legendX": 238, "legendY": -35, "labelOffset": 11}}}},
{"transform": [{"filter": "datum.line == 'mean'"}], "mark": {"type": "line", "strokeWidth": 4.5, "strokeJoin": "round"}, "encoding": {"stroke": {"field": "series", "type": "nominal", "scale": {"domain": ["d2EYFP"], "range": ["#1b9a4b"]}, "legend": {"title": null, "orient": "none", "legendX": 238, "legendY": -35, "labelOffset": 11}}}},
{"transform": [{"filter": "datum.line == 'tet'"}], "mark": {"type": "line", "strokeWidth": 3.5}, "encoding": {"color": {"field": "series", "type": "nominal", "scale": {"domain": ["Tetracycline"], "range": ["#d3222d"]}, "legend": {"title": null, "orient": "none", "legendX": 238, "legendY": -10, "labelOffset": 11}}}}
]
},
{
"data": {"values": [{"sub": "measured"}]},
"mark": {"type": "point", "opacity": 0},
"encoding": {"shape": {"field": "sub", "type": "nominal", "legend": {"title": null, "orient": "none", "legendX": 347, "legendY": -13.5, "symbolOpacity": 0, "symbolSize": 1, "symbolStrokeWidth": 0, "labelFontSize": 15, "labelOffset": 0, "labelBaseline": "alphabetic"}}}
}
]
},
{
"width": 425, "height": 243,
"title": {"text": "B", "offset": 10, "dx": 8},
"layer": [
{
"data": {"name": "B"},
"encoding": {
"x": {"field": "time", "type": "quantitative", "scale": {"domain": [0, 2500], "nice": false}, "axis": {"values": [0, 500, 1000, 1500, 2000, 2500], "labelExpr": "datum.value == 2500 ? '3000' : datum.label", "title": "Time [min.]", "titlePadding": 13}},
"y": {"field": "value", "type": "quantitative", "scale": {"domain": [-0.25, 3], "nice": false, "zero": false}, "axis": {"values": [0, 1, 2, 3], "title": "Fluorescence [N.u.]"}}
},
"layer": [
{"transform": [{"filter": "datum.line == 'upper' || datum.line == 'lower'"}], "mark": {"type": "line", "strokeWidth": 1.3, "strokeJoin": "round"}, "encoding": {"detail": {"field": "line"}, "stroke": {"field": "series", "type": "nominal", "scale": {"domain": ["d2EYFP"], "range": ["#1b9a4b"]}, "legend": {"title": null, "orient": "none", "legendX": 244, "legendY": -4.5, "labelOffset": 13}}}},
{"transform": [{"filter": "datum.line == 'mean'"}], "mark": {"type": "line", "strokeWidth": 4, "strokeJoin": "round"}, "encoding": {"stroke": {"field": "series", "type": "nominal", "scale": {"domain": ["d2EYFP"], "range": ["#1b9a4b"]}, "legend": {"title": null, "orient": "none", "legendX": 244, "legendY": -4.5, "labelOffset": 13}}}},
{"transform": [{"filter": "datum.line == 'tet'"}], "mark": {"type": "line", "strokeWidth": 3.5}, "encoding": {"color": {"field": "series", "type": "nominal", "scale": {"domain": ["Tetracycline"], "range": ["#d3222d"]}, "legend": {"title": null, "orient": "none", "legendX": 244, "legendY": 35.5, "labelOffset": 13}}}}
]
},
{
"data": {"values": [{"sub": "measured"}]},
"mark": {"type": "point", "opacity": 0},
"encoding": {"shape": {"field": "sub", "type": "nominal", "legend": {"title": null, "orient": "none", "legendX": 355, "legendY": 16.5, "symbolOpacity": 0, "symbolSize": 1, "symbolStrokeWidth": 0, "labelFontSize": 15, "labelOffset": 0, "labelBaseline": "alphabetic"}}}
}
]
}
],
"spacing": 93, "bounds": "flush",
"resolve": {"scale": {"color": "independent", "stroke": "independent", "shape": "independent"}, "legend": {"color": "independent", "stroke": "independent", "shape": "independent"}}
},
{
"hconcat": [
{
"width": 427, "height": 244,
"title": {"text": "C", "offset": 6},
"layer": [
{
"data": {"name": "C"},
"encoding": {
"x": {"field": "time", "type": "quantitative", "scale": {"domain": [0, 2500], "nice": false}, "axis": {"values": [0, 500, 1000, 1500, 2000, 2500], "labelExpr": "datum.value == 2500 ? '3000' : datum.label", "title": "Time [min.]", "titlePadding": 13}},
"y": {"field": "value", "type": "quantitative", "scale": {"domain": [-0.2, 3], "nice": false, "zero": false}, "axis": {"values": [0, 1, 2, 3], "title": "Fluorescence [N.u.]"}}
},
"layer": [
{"transform": [{"filter": "datum.line == 'mean'"}], "mark": {"type": "line", "strokeWidth": 3.5, "strokeJoin": "round"}, "encoding": {"stroke": {"field": "series", "type": "nominal", "scale": {"domain": ["d2EYFP"], "range": ["#1b9a4b"]}, "legend": {"title": null, "orient": "none", "legendX": 228, "legendY": -9.5, "labelOffset": 8, "encode": {"labels": {"update": {"dy": {"value": -14}}}}}}}},
{"transform": [{"filter": "datum.line == 'tet'"}], "mark": {"type": "line", "strokeWidth": 3.5}, "encoding": {"color": {"field": "series", "type": "nominal", "scale": {"domain": ["Tetracycline"], "range": ["#d3222d"]}, "legend": {"title": null, "orient": "none", "legendX": 228, "legendY": 30.5, "labelOffset": 8, "encode": {"labels": {"update": {"dy": {"value": -21}}}}}}}}
]
},
{
"data": {"values": [{"sub": "sim"}]},
"mark": {"type": "point", "opacity": 0},
"encoding": {"shape": {"field": "sub", "type": "nominal", "legend": {"title": null, "orient": "none", "legendX": 334, "legendY": -3.5, "symbolOpacity": 0, "symbolSize": 1, "symbolStrokeWidth": 0, "labelFontSize": 15, "labelOffset": 0, "labelBaseline": "alphabetic"}}}
}
]
},
{
"width": 424, "height": 246,
"title": {"text": "D", "offset": 6, "dx": 3},
"layer": [
{
"data": {"name": "D"},
"encoding": {
"x": {"field": "time", "type": "quantitative", "scale": {"domain": [0, 2500], "nice": false}, "axis": {"values": [0, 500, 1000, 1500, 2000, 2500], "labelExpr": "datum.value == 2500 ? '3000' : datum.label", "title": "Time [min.]", "titlePadding": 12}},
"y": {"field": "value", "type": "quantitative", "scale": {"domain": [-0.2, 3], "nice": false, "zero": false}, "axis": {"values": [0, 1, 2, 3], "title": "Fluorescence [N.u.]"}}
},
"layer": [
{"transform": [{"filter": "datum.line == 'mean'"}], "mark": {"type": "line", "strokeWidth": 3.5, "strokeJoin": "round"}, "encoding": {"stroke": {"field": "series", "type": "nominal", "scale": {"domain": ["d2EYFP"], "range": ["#1b9a4b"]}, "legend": {"title": null, "orient": "none", "legendX": 255, "legendY": -6, "labelOffset": 6, "encode": {"labels": {"update": {"dy": {"value": -16}}}}}}}},
{"transform": [{"filter": "datum.line == 'tet'"}], "mark": {"type": "line", "strokeWidth": 3.5}, "encoding": {"color": {"field": "series", "type": "nominal", "scale": {"domain": ["Tetracycline"], "range": ["#d3222d"]}, "legend": {"title": null, "orient": "none", "legendX": 255, "legendY": 34, "labelOffset": 6, "encode": {"labels": {"update": {"dy": {"value": -21}}}}}}}}
]
},
{
"data": {"values": [{"sub": "sim"}]},
"mark": {"type": "point", "opacity": 0},
"encoding": {"shape": {"field": "sub", "type": "nominal", "legend": {"title": null, "orient": "none", "legendX": 359, "legendY": -0.5, "symbolOpacity": 0, "symbolSize": 1, "symbolStrokeWidth": 0, "labelFontSize": 15, "labelOffset": 0, "labelBaseline": "alphabetic"}}}
}
]
}
],
"spacing": 101, "bounds": "flush",
"resolve": {"scale": {"color": "independent", "stroke": "independent", "shape": "independent"}, "legend": {"color": "independent", "stroke": "independent", "shape": "independent"}}
}
],
"spacing": -2, "bounds": "full",
"resolve": {"scale": {"color": "independent", "stroke": "independent", "shape": "independent"}, "legend": {"color": "independent", "stroke": "independent", "shape": "independent"}}
}
